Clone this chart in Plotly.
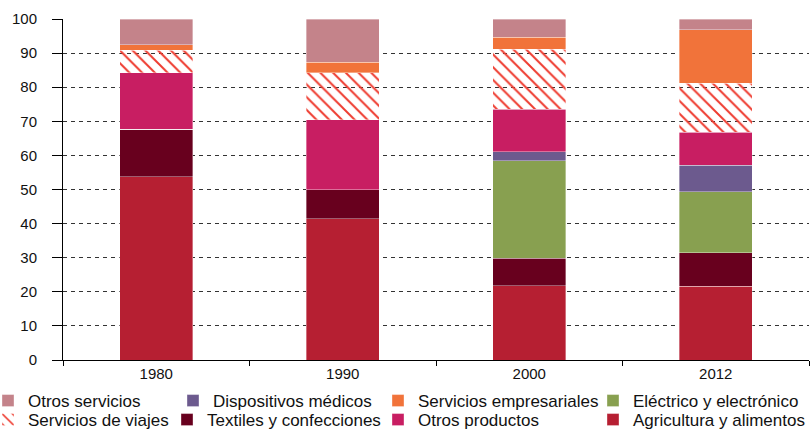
import plotly.graph_objects as go

years = ["1980", "1990", "2000", "2012"]

agricultura = [53.7, 41.4, 21.8, 21.7]
textiles = [14.0, 8.6, 8.1, 9.7]
electrico = [0.0, 0.0, 28.5, 17.9]
dispositivos = [0.0, 0.0, 2.7, 7.8]
otros_productos = [16.5, 20.5, 12.5, 9.7]
viajes = [6.7, 13.7, 17.6, 14.4]
empresariales = [1.5, 3.1, 3.5, 15.6]
otros_servicios = [7.6, 12.7, 5.3, 3.2]

series = [
    ("Agricultura y alimentos", agricultura, "#B61F32", None, "legend8"),
    ("Textiles y confecciones", textiles, "#68001E", None, "legend6"),
    ("Eléctrico y electrónico", electrico, "#88A050", None, "legend4"),
    ("Dispositivos médicos", dispositivos, "#6C5A8E", None, "legend2"),
    ("Otros productos", otros_productos, "#C81E62", None, "legend7"),
    ("Servicios de viajes", viajes, "#EE3B2F", "\\", "legend5"),
    ("Servicios empresariales", empresariales, "#F1733A", None, "legend3"),
    ("Otros servicios", otros_servicios, "#C4838A", None, "legend"),
]

fig = go.Figure()
for name, vals, color, pat, leg in series:
    marker = dict(color=color, line=dict(color="rgba(255,255,255,0.45)", width=0.8))
    if pat:
        marker["pattern"] = dict(shape=pat, fgcolor=color, bgcolor="rgba(0,0,0,0)",
                                 size=9, solidity=0.22, fillmode="replace")
    fig.add_trace(go.Bar(x=years, y=vals, name=name, marker=marker,
                         width=0.39, legend=leg))

W, H = 812, 430
L, R, T, B = 63, 3, 19, 70
PW, PH = W - L - R, H - T - B
# legend text start (px) and row centre (px)
leg_pos = {
    "legend": (28, 401), "legend2": (213, 401), "legend3": (418, 401), "legend4": (633, 401),
    "legend5": (28, 420), "legend6": (207, 420), "legend7": (418, 420), "legend8": (633, 420),
}
layout_legends = {}
for key, (tx, ty) in leg_pos.items():
    layout_legends[key] = dict(
        x=(tx - 40 - L) / PW, y=(H - B - ty) / PH,
        xanchor="left", yanchor="middle",
        bgcolor="rgba(0,0,0,0)", borderwidth=0,
        font=dict(family="Arial, Liberation Sans", size=17, color="#111111"),
    )

fig.update_layout(
    width=W, height=H,
    barmode="stack",
    plot_bgcolor="white", paper_bgcolor="white",
    margin=dict(l=L, r=R, t=T, b=B, autoexpand=False),
    font=dict(family="Arial, Liberation Sans", size=15, color="#111111"),
    showlegend=True,
    **layout_legends,
)
fig.update_xaxes(
    type="category", range=[-0.5, 3.5],
    showline=True, linecolor="black", linewidth=1,
    ticks="outside", ticklen=5, tickcolor="black", tickson="boundaries",
    showgrid=False, tickfont=dict(size=15),
)
fig.update_yaxes(
    range=[0, 100], tickvals=list(range(0, 101, 10)),
    showline=True, linecolor="black", linewidth=1,
    ticks="outside", ticklen=10, tickcolor="black",
    ticklabelstandoff=12,
    showgrid=True, gridcolor="#333333", gridwidth=1, griddash="4px,4px",
    zeroline=False, tickfont=dict(size=15),
)

fig.write_html(
    "out.html",
    config={"displayModeBar": False},
    post_script="document.body.style.margin='0';document.body.style.overflow='hidden';",
)
